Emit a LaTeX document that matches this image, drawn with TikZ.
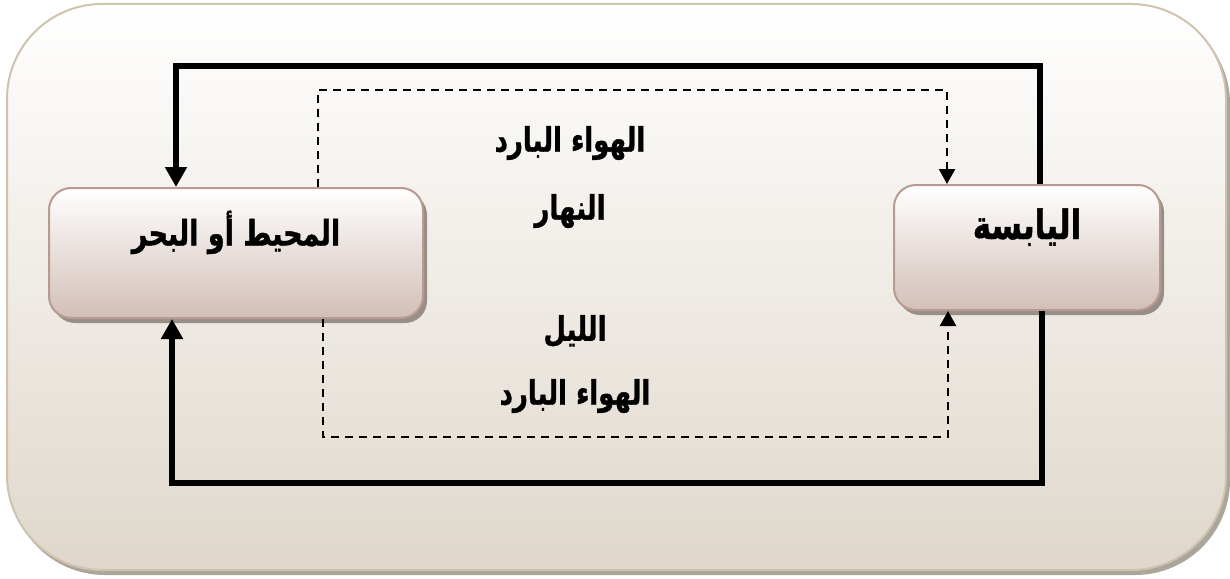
\documentclass[tikz,border=0pt]{standalone}
\usepackage{fontspec}
\usepackage{graphicx}
\usetikzlibrary{arrows.meta,shadows}
\TeXXeTstate=1
\newfontfamily\arabicfont[Script=Arabic,BoldFeatures={FakeBold=1.2}]{DejaVu Sans}
\newcommand{\artext}[1]{\scalebox{1}[1.3]{\beginR #1\endR}}
\definecolor{outertop}{HTML}{FFFFFF}
\definecolor{outerbot}{HTML}{DFD7CB}
\definecolor{outerline}{HTML}{CFC3AE}
\definecolor{outershadow}{HTML}{ABA69B}
\definecolor{boxbot}{HTML}{D2BFB7}
\definecolor{boxline}{HTML}{B89A91}
\definecolor{boxshadow}{HTML}{978E87}
\tikzset{
  box/.style={draw=boxline, line width=2pt, rounded corners=22pt,
    top color=white, bottom color=boxbot,
    drop shadow={shadow xshift=4pt, shadow yshift=-5pt, fill=boxshadow, opacity=1},
    text height=20pt, text depth=35pt, font=\arabicfont\bfseries\fontsize{27}{32}\selectfont},
  lbl/.style={font=\arabicfont\bfseries\fontsize{26}{30}\selectfont, inner sep=0pt},
  flow/.style={line width=6.5pt, -{Triangle[width=21pt,length=20pt]}},
  breeze/.style={line width=2.2pt, dash pattern=on 8pt off 6pt, -{Triangle[width=16pt,length=15pt]}}
}
\begin{document}
\begin{tikzpicture}[x=1pt,y=-1pt]
\useasboundingbox (0,0) rectangle (1230,578);
% background panel
\fill[outershadow, rounded corners=95pt] (10,9) rectangle (1230,575);
\shade[top color=outertop, bottom color=outerbot, draw=outerline, line width=2pt, rounded corners=95pt] (7,4) rectangle (1226,570);
% boxes
\node[box, minimum width=374pt, minimum height=130pt] (sea) at (236,253) {\artext{المحيط أو البحر}};
\node[box, minimum width=266pt, minimum height=125pt, text depth=37pt, font=\arabicfont\bfseries\fontsize{31}{36}\selectfont] (land) at (1027,247.5) {\artext{اليابسة}};
% corner coordinates
\coordinate (tr) at (1040,66);
\coordinate (tl) at (176,66);
\coordinate (br) at (1042,483);
\coordinate (bl) at (172,483);
\coordinate (dtl) at (318,90);
\coordinate (dtr) at (947,90);
\coordinate (dbl) at (323,437);
\coordinate (dbr) at (948,437);
% thick flows
\draw[flow] (land.north -| tr) -- (tr) -- (tl) -- (sea.north -| tl);
\draw[flow] (land.south -| br) -- (br) -- (bl) -- (sea.south -| bl);
% dashed breezes
\draw[breeze] (sea.north -| dtl) -- (dtl) -- (dtr) -- (land.north -| dtr);
\draw[breeze] (sea.south -| dbl) -- (dbl) -- (dbr) -- (land.south -| dbr);
% labels
\node[lbl] (cold1) at (570,143) {\artext{الهواء البارد}};
\node[lbl] (day) at (570,211) {\artext{النهار}};
\node[lbl] (night) at (575,331) {\artext{الليل}};
\node[lbl] (cold2) at (575,396) {\artext{الهواء البارد}};
\end{tikzpicture}
\end{document}
